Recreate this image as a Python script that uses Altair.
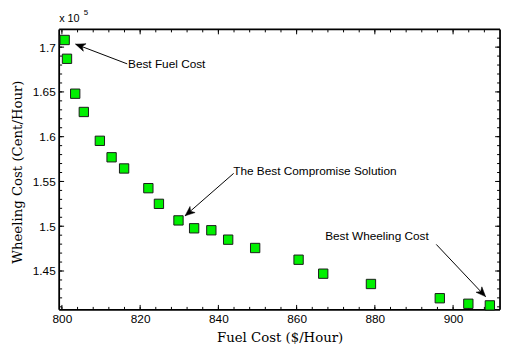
import altair as alt
import pandas as pd

# Data (wheeling cost in units of 1e5 cent/hour)
fuel_cost = [800.7, 801.3, 803.4, 805.6, 809.7, 812.7, 815.9, 822.1, 824.8, 829.8,
             833.8, 838.2, 842.5, 849.4, 860.5, 866.8, 879.0, 896.6, 903.9, 909.4]
wheeling_cost = [1.708, 1.687, 1.648, 1.6276, 1.5954, 1.577, 1.5645, 1.5425, 1.525, 1.5065,
                 1.4977, 1.4955, 1.485, 1.4757, 1.4626, 1.447, 1.4355, 1.4196, 1.4134, 1.4116]

x_ticks = [800, 820, 840, 860, 880, 900]
y_ticks = [1.45, 1.5, 1.55, 1.6, 1.65, 1.7]
x_minor = [800 + 4 * i for i in range(28)]
y_minor = [round(1.41 + 0.01 * i, 2) for i in range(31)]

ann_text = ["Best Fuel Cost", "The Best Compromise Solution", "Best Wheeling Cost"]
ann_tx = [816.9, 843.8, 867.3]
ann_ty = [1.6813, 1.5612, 1.4886]
arrow_x0 = [816.7, 843.9, 895.7]
arrow_y0 = [1.6813, 1.559, 1.4797]
arrow_x1 = [803.5, 831.5, 908.3]
arrow_y1 = [1.7033, 1.5117, 1.4214]
arrow_angle = [290, 230, 137]

W, H = 448, 285
XD = [799.3, 912.0]
YD = [1.4066, 1.7198]

xs = alt.Scale(domain=XD, nice=False, zero=False)
ys = alt.Scale(domain=YD, nice=False, zero=False)

pts = pd.DataFrame({"x": fuel_cost, "y": wheeling_cost})
ann = pd.DataFrame({"t": ann_text, "x": ann_tx, "y": ann_ty})
arr = pd.DataFrame({"x0": arrow_x0, "y0": arrow_y0, "x1": arrow_x1, "y1": arrow_y1, "a": arrow_angle})

lab_font = "Liberation Sans"
title_font = "DejaVu Serif"

base_axes = alt.Chart(pts).mark_point(opacity=0).encode(
    x=alt.X("x:Q", scale=xs, title="Fuel Cost ($/Hour)",
            axis=alt.Axis(values=x_ticks, ticks=False, domain=False, grid=False,
                          labelFont=lab_font, labelFontSize=12, labelPadding=4,
                          labelColor="black",
                          titleFont=title_font, titleFontSize=13.5, titleFontWeight="normal",
                          titleColor="black", titleX=W / 2, titleY=28, titleAlign="center",
                          titleBaseline="middle")),
    y=alt.Y("y:Q", scale=ys, title="Wheeling Cost (Cent/Hour)",
            axis=alt.Axis(values=y_ticks, format=".3~g", ticks=False, domain=False, grid=False,
                          labelFont=lab_font, labelFontSize=12, labelPadding=4,
                          labelColor="black",
                          titleFont=title_font, titleFontSize=13.5, titleFontWeight="normal",
                          titleColor="black", titleX=-42, titleY=H / 2 + 2, titleAngle=270,
                          titleAlign="center", titleBaseline="middle")),
)

points = alt.Chart(pts).mark_point(shape="square", size=90, filled=True, fill="#00f000",
                                   stroke="#1a1a1a", strokeWidth=1, opacity=1).encode(
    x=alt.X("x:Q", scale=xs), y=alt.Y("y:Q", scale=ys))

# inward ticks
xmaj = pd.DataFrame({"v": x_ticks})
xmin = pd.DataFrame({"v": x_minor})
ymaj = pd.DataFrame({"v": y_ticks})
ymin = pd.DataFrame({"v": y_minor})

def xtick(df, length):
    b = alt.Chart(df).mark_rule(color="black", strokeWidth=1)
    bottom = b.encode(x=alt.X("v:Q", scale=xs), y=alt.value(H), y2=alt.value(H - length))
    top = b.encode(x=alt.X("v:Q", scale=xs), y=alt.value(0), y2=alt.value(length))
    return [bottom, top]

def ytick(df, length):
    b = alt.Chart(df).mark_rule(color="black", strokeWidth=1)
    left = b.encode(y=alt.Y("v:Q", scale=ys), x=alt.value(0), x2=alt.value(length))
    right = b.encode(y=alt.Y("v:Q", scale=ys), x=alt.value(W), x2=alt.value(W - length))
    return [left, right]

ticks = xtick(xmin, 3) + xtick(xmaj, 5) + ytick(ymin, 3) + ytick(ymaj, 5)

frame_df = pd.DataFrame({"k": [0]})
fb = alt.Chart(frame_df).mark_rule(color="black", strokeWidth=1.8)
frame = [
    fb.encode(x=alt.value(0), x2=alt.value(W), y=alt.value(0)),
    fb.encode(x=alt.value(0), x2=alt.value(W), y=alt.value(H)),
    fb.encode(y=alt.value(0), y2=alt.value(H), x=alt.value(0)),
    fb.encode(y=alt.value(0), y2=alt.value(H), x=alt.value(W)),
]

lines = alt.Chart(arr).mark_rule(color="black", strokeWidth=1).encode(
    x=alt.X("x0:Q", scale=xs), y=alt.Y("y0:Q", scale=ys),
    x2="x1:Q", y2="y1:Q")

heads = alt.Chart(arr).mark_point(
    shape="M0,0L0.9,2.2L0,1.6L-0.9,2.2Z", size=80, filled=True, fill="black",
    stroke="black", strokeWidth=0.5, opacity=1).encode(
    x=alt.X("x1:Q", scale=xs), y=alt.Y("y1:Q", scale=ys), angle=alt.Angle("a:Q", scale=None))

texts = alt.Chart(ann).mark_text(align="left", baseline="middle", font=lab_font,
                                 fontSize=12, color="black").encode(
    x=alt.X("x:Q", scale=xs), y=alt.Y("y:Q", scale=ys), text="t:N")

exp_df = pd.DataFrame({"t": ["x 10"], "s": ["5"]})
exp_main = alt.Chart(exp_df).mark_text(align="left", baseline="middle", font=lab_font,
                                       fontSize=11, color="black").encode(
    x=alt.value(0), y=alt.value(-11), text="t:N")
exp_sup = alt.Chart(exp_df).mark_text(align="left", baseline="middle", font=lab_font,
                                      fontSize=8, color="black").encode(
    x=alt.value(25), y=alt.value(-17), text="s:N")

chart = alt.layer(base_axes, *ticks, *frame, lines, heads, points, texts, exp_main, exp_sup).properties(
    width=W, height=H,
    autosize=alt.AutoSizeParams(type="none"),
    padding={"left": 52, "top": 19, "right": 2, "bottom": 36},
).configure(background="white").configure_view(stroke=None)

chart.save("out.html", embed_options={"renderer": "svg", "actions": False})
